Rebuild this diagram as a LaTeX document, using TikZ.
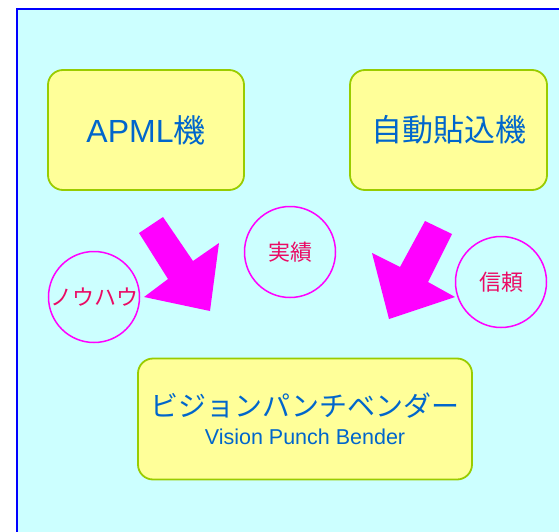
\documentclass[tikz,border=0pt]{standalone}
\usepackage{fontspec}
\setmainfont{Liberation Sans}
\newfontfamily\jp{Noto Sans CJK JP}
\definecolor{bgcyan}{RGB}{204,255,255}
\definecolor{frameblue}{RGB}{0,0,255}
\definecolor{boxfill}{RGB}{255,255,153}
\definecolor{boxline}{RGB}{153,204,0}
\definecolor{txtblue}{RGB}{0,102,204}
\definecolor{magentaarrow}{RGB}{255,0,255}
\definecolor{circtext}{RGB}{235,10,100}
\tikzset{
  machine/.style={draw=boxline, line width=1.8pt, fill=boxfill, rounded corners=15pt,
    text=txtblue, inner sep=0pt, align=center},
  bubble/.style={circle, draw=magentaarrow, line width=1.5pt, inner sep=0pt,
    minimum size=91pt, text=circtext, font=\jp\fontsize{22}{24}\selectfont},
  bigarrow/.style={fill=magentaarrow, draw=none}
}
\begin{document}
\begin{tikzpicture}[x=1pt,y=-1pt]
\useasboundingbox (0,0) rectangle (559,532);
\fill[white] (0,0) rectangle (559,532);
\fill[bgcyan] (17,9) rectangle (565,540);
\draw[frameblue, line width=2pt] (17,540) -- (17,9) -- (565,9);

\node[machine, minimum width=196pt, minimum height=120pt,
  font=\fontsize{32}{34}\selectfont] (apml) at (146,130) {APML{\jp 機}};
\node[machine, minimum width=197pt, minimum height=120pt,
  font=\jp\fontsize{31}{34}\selectfont] (auto) at (448.5,130) {自動貼込機};
\node[machine, minimum width=334pt, minimum height=121pt,
  font=\fontsize{28}{28}\selectfont] (vpb) at (305,419)
  {{\jp ビジョンパンチベンダー}\\
   {\fontsize{21.5}{22}\selectfont Vision Punch Bender}};

\node[bubble] (knowhow) at (94,297) {ノウハウ};
\node[bubble] (record) at (290,252) {実績};
\node[bubble] (trust) at (501,282) {信頼};

\fill[bigarrow] (139,233) -- (163,217) -- (193,261) -- (219,243) -- (210,311)
  -- (144,297) -- (168,279) -- cycle;
\fill[bigarrow] (425,221) -- (452,234) -- (428,282) -- (455,297) -- (389,319)
  -- (372,253) -- (400,267) -- cycle;
\end{tikzpicture}
\end{document}
